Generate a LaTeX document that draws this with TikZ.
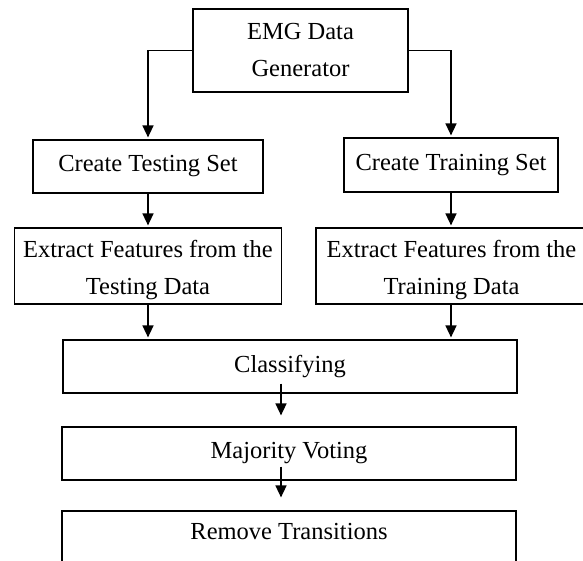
\documentclass[tikz,border=0pt]{standalone}
\usepackage{fontspec}
\setmainfont{Liberation Serif}
\usetikzlibrary{arrows.meta,calc}
\begin{document}
\begin{tikzpicture}[x=1pt,y=-1pt,
  box/.style={draw,line width=1.2pt,inner sep=0pt,align=center,
    font=\fontsize{24.5}{37}\selectfont},
  lbl/.style={inner sep=0pt,align=center,font=\fontsize{24.5}{37}\selectfont},
  arr/.style={line width=1.5pt,-{Triangle[length=12pt,width=11pt]},shorten >=2pt}]
\useasboundingbox (0,0) rectangle (583,561);
\clip (0,0) rectangle (583,561);
\node[box,minimum width=215,minimum height=83] (emg) at (300.5,50.5) {EMG Data\\Generator};
\node[box,minimum width=230,minimum height=53] (cts) at (148,166.5) {Create Testing Set};
\node[box,minimum width=214,minimum height=54] (ctr) at (451,165) {Create Training Set};
\node[box,minimum width=267,minimum height=76] (ets) at (148,266) {};
\node[lbl] (etstext) at (148,270) {Extract Features from the\\Testing Data};
\node[box,minimum width=270,minimum height=76] (etr) at (451,266) {};
\node[lbl] (etrtext) at (451.5,270) {Extract Features from the\\Training Data};
\node[box,minimum width=454,minimum height=53] (cls) at (290,366.5) {Classifying};
\node[box,minimum width=454,minimum height=53] (maj) at (289,453.5) {Majority Voting};
\node[draw,line width=1.2pt,inner sep=0pt,minimum width=454,minimum height=80] (rem) at (289,551) {};
\node[lbl] (remtext) at (289,532) {Remove Transitions};
\draw[arr] (emg.west) -| (cts.north);
\draw[arr] (emg.east) -| (ctr.north);
\draw[arr] (cts.south) -- (cts.south |- ets.north);
\draw[arr] (ctr.south) -- (ctr.south |- etr.north);
\draw[arr] (ets.south) -- (ets.south |- cls.north);
\draw[arr] (etr.south) -- (etr.south |- cls.north);
\draw[arr,shorten >=0pt] ($(cls.south)+(-9,-10)$) -- ($(maj.north)+(-8,-11)$);
\draw[arr,shorten >=0pt] ($(maj.south)+(-8,-14)$) -- ($(rem.north)+(-8,-13)$);
\end{tikzpicture}
\end{document}
